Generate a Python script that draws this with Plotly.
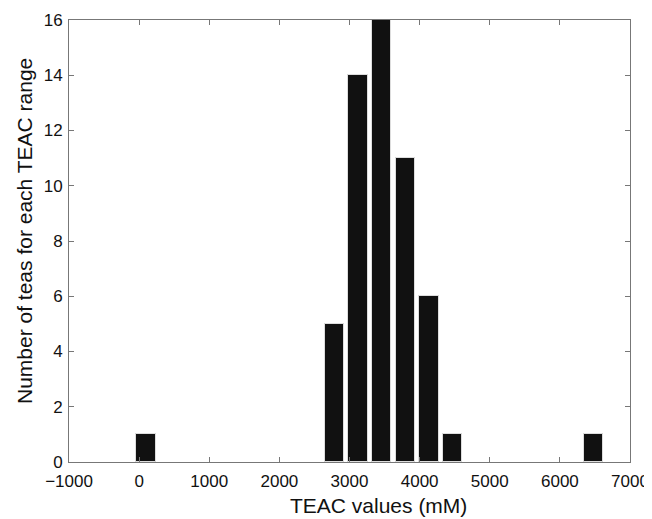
import plotly.graph_objects as go

bin_centers = [101, 437, 773, 1108, 1444, 1780, 2116, 2452, 2787, 3123,
               3459, 3795, 4131, 4466, 4802, 5138, 5474, 5809, 6145, 6481]
counts = [1, 0, 0, 0, 0, 0, 0, 0, 5, 14, 16, 11, 6, 1, 0, 0, 0, 0, 0, 1]
x_ticks = [-1000, 0, 1000, 2000, 3000, 4000, 5000, 6000, 7000]
y_ticks = [0, 2, 4, 6, 8, 10, 12, 14, 16]
x_title = "TEAC values (mM)"
y_title = "Number of teas for each TEAC range"

FONT = "Liberation Sans, Arial, sans-serif"

fig = go.Figure()
fig.add_trace(go.Bar(
    x=bin_centers, y=counts, width=278,
    marker=dict(color="#111111",
                line=dict(color="#dddddd", width=[1 if c > 0 else 0 for c in counts])),
))

axis_common = dict(
    showgrid=False, zeroline=False, showline=True, linecolor="#777777", linewidth=1,
    mirror="ticks", ticks="inside", ticklen=5, tickcolor="#777777", tickwidth=1,
    automargin=False,
    tickfont=dict(family=FONT, size=17, color="#111111"),
)

# page body adds 8px margin; figure sized so the plot sits where the reference has it
fig.update_layout(
    width=644, height=511,
    margin=dict(l=61, r=22, t=12, b=57),
    paper_bgcolor="white", plot_bgcolor="white",
    showlegend=False, bargap=0,
    font=dict(family=FONT, color="#111111"),
    xaxis=dict(range=[-1000, 7000], tickvals=x_ticks,
               ticktext=[("\u2212" + str(-v)) if v < 0 else str(v) for v in x_ticks],
               ticklabelstandoff=4,
               **axis_common),
    yaxis=dict(range=[0, 16], tickvals=y_ticks, ticklabelstandoff=2,
               **axis_common),
    annotations=[
        dict(text=x_title, xref="paper", yref="paper", x=0.551, y=0,
             xanchor="center", yanchor="middle", yshift=-43, showarrow=False,
             font=dict(family=FONT, size=21, color="#111111")),
        dict(text=y_title, xref="paper", yref="paper", x=-0.0802, y=0.5226,
             xanchor="center", yanchor="middle", textangle=-90, showarrow=False,
             font=dict(family=FONT, size=21, color="#111111")),
    ],
)

fig.write_html("out.html")
